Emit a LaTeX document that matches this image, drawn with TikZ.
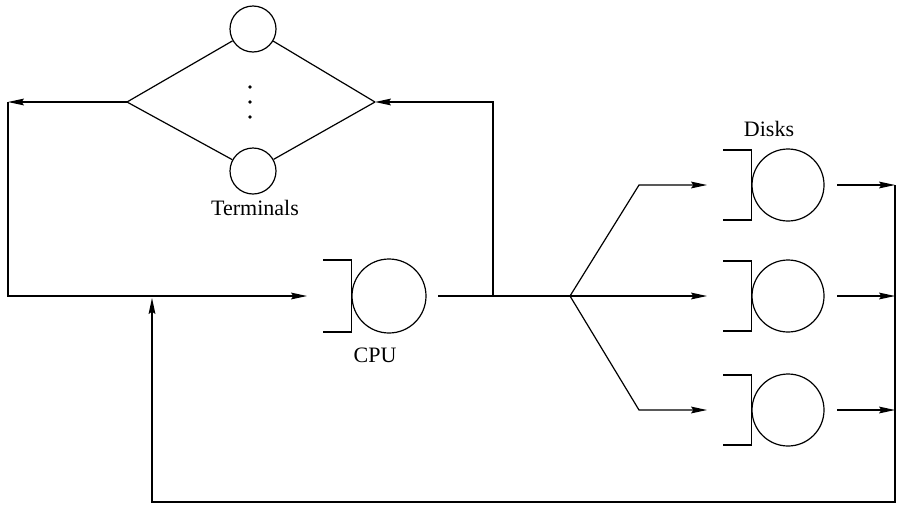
\documentclass[tikz,border=0pt]{standalone}
\usepackage{fontspec}
\setmainfont{Liberation Serif}
\usetikzlibrary{positioning,arrows.meta}

\begin{document}
\begin{tikzpicture}[
        x=0.5pt, y=-0.5pt, line width=0.6pt,
        >={Stealth[length=8pt,width=3.4pt,inset=1.2pt]},
        server/.style={circle, draw=black, inner sep=0pt, minimum size=37pt},
        terminal/.style={circle, draw=black, inner sep=0pt, minimum size=23pt},
        lbl/.style={font=\fontsize{11}{13}\selectfont}
    ]
        \useasboundingbox (0,0) rectangle (897,504);

        % Terminals
        \node[terminal] (term1) at (253,29) {};
        \node[terminal] (term2) at (253,171) {};
        \coordinate (tin) at (375,102);
        \coordinate (tout) at (127,102);
        \draw (tout) -- (term1);
        \draw (term1) -- (tin);
        \draw (tout) -- (term2);
        \draw (term2) -- (tin);
        \foreach \y in {87,102,117}
            \fill (250,\y) circle (0.9pt);
        \node[lbl] (termlbl) at (255,208) {Terminals};

        % CPU
        \node[server] (cpu) at (389,296) {};
        \draw (cpu.west) ++(-28,-36) -- ++(28,0) -- ++(0,72) -- ++(-28,0);
        \node[lbl] (cpulbl) at (375,355) {CPU};

        % Disks
        \foreach \n/\y in {1/185,2/296,3/410} {
            \node[server, minimum size=36pt] (disk\n) at (788,\y) {};
            \draw (disk\n.west) ++(-28,-35) -- ++(28,0) -- ++(0,70) -- ++(-28,0);
        }
        \node[lbl] (disklbl) at (769,129) {Disks};

        % Connections
        \coordinate (topleft) at (8,102);
        \coordinate (cpuin) at (307,296);
        \coordinate (cpuout) at (438,296);
        \coordinate (fork) at (493,296);
        \coordinate (split) at (570,296);
        \coordinate (back) at (152,502);
        \coordinate (join) at (152,298);
        \draw[->] (tout) -- (topleft);
        \draw[->] (topleft) |- (cpuin);
        \draw (cpuout) -- (split);
        \draw[->] (fork) |- (tin);
        \foreach \n/\y in {1/185,2/296,3/410} {
            \coordinate (din\n) at (707,\y);
            \coordinate (dout\n) at (837,\y);
            \coordinate (ret\n) at (895,\y);
            \draw[->] (split) -- (639,\y) -- (din\n);
            \draw[->] (dout\n) -- (ret\n);
        }
        \draw[->] (ret1) |- (back) -- (join);
    \end{tikzpicture}
\end{document}
